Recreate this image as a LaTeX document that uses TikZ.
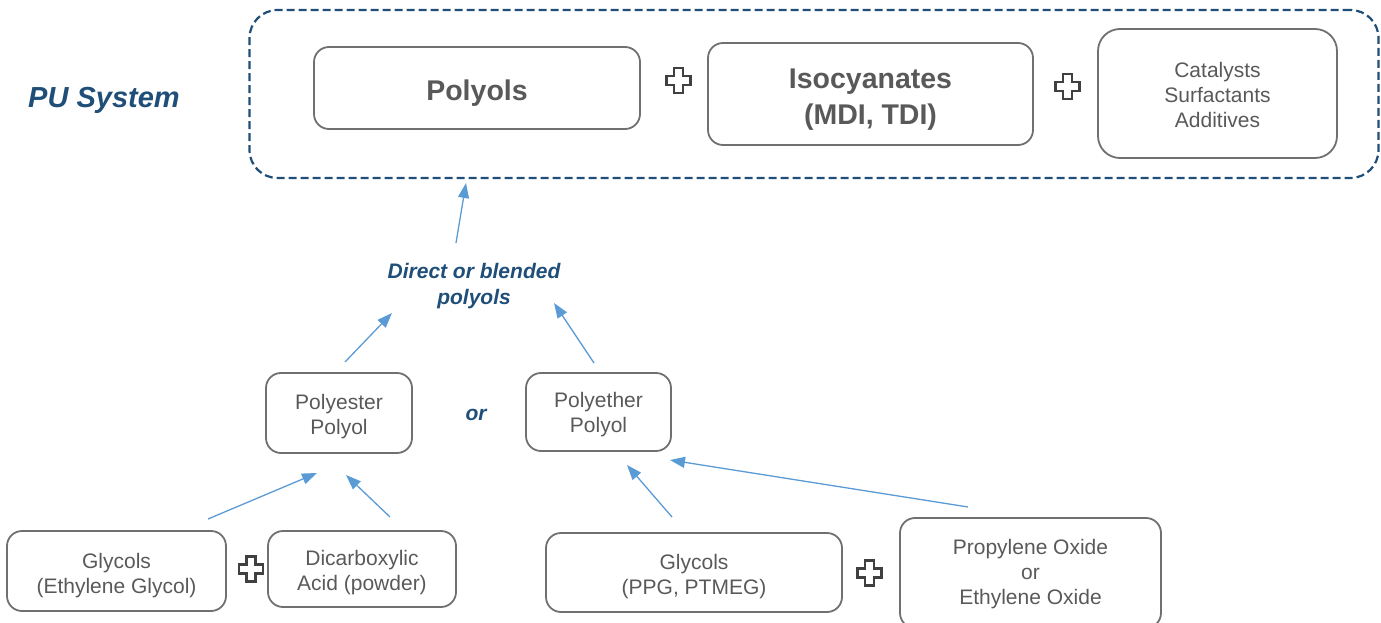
\documentclass[tikz,border=0pt]{standalone}
\usepackage{fontspec}
\setmainfont{Liberation Sans}
\usetikzlibrary{arrows.meta}
\definecolor{boxgray}{HTML}{707070}
\definecolor{txtgray}{HTML}{595959}
\definecolor{dblue}{HTML}{1F4E79}
\definecolor{arrblue}{HTML}{5B9BD5}
\definecolor{plusgray}{HTML}{404040}
\tikzset{
  rbox/.style={draw=boxgray, line width=1.8pt, rounded corners=15pt, inner sep=0pt},
  boxtext/.style={text=txtgray, align=center, inner sep=0pt},
  regtxt/.style={font=\fontsize{21}{25}\selectfont},
  bigtxt/.style={font=\fontsize{28.5}{36}\selectfont\bfseries},
  bluetxt/.style={text=dblue, font=\fontsize{21}{26}\selectfont\bfseries\itshape, align=center, inner sep=0pt},
  arr/.style={draw=arrblue, line width=1.3pt, -{Triangle[length=15pt,width=11pt]}},
  frame/.style={draw=dblue, line width=2.2pt, dash pattern=on 8pt off 4pt, rounded corners=28pt, inner sep=0pt},
  plussign/.pic={\draw[plusgray, line width=2.5pt, line join=miter]
    (-4.5,-12.5) -- (4.5,-12.5) -- (4.5,-4.5) -- (12,-4.5) -- (12,4.5) -- (4.5,4.5) -- (4.5,12.5)
    -- (-4.5,12.5) -- (-4.5,4.5) -- (-12,4.5) -- (-12,-4.5) -- (-4.5,-4.5) -- cycle;}
}
\begin{document}
\begin{tikzpicture}[x=1pt, y=-1pt]
\useasboundingbox (0,0) rectangle (1381,623);

% frame
\node[frame, minimum width=1129pt, minimum height=168pt] (pu) at (814,94) {};
\node[bluetxt, font=\fontsize{29}{34}\selectfont\bfseries\itshape] (putitle) at (104,100) {PU System};

% top row
\node[rbox, minimum width=326pt, minimum height=82pt] (polyols) at (477,88) {};
\node[boxtext, bigtxt] (polyolsT) at (477,93) {Polyols};
\pic at (678.5,80.5) {plussign};
\node[rbox, minimum width=325pt, minimum height=102pt] (iso) at (870.5,94) {};
\node[boxtext, bigtxt] (isoT) at (870.5,100) {Isocyanates\\(MDI, TDI)};
\pic at (1067.5,86.5) {plussign};
\node[rbox, rounded corners=22pt, minimum width=239pt, minimum height=129pt] (cat) at (1217.5,93.5) {};
\node[boxtext, regtxt] (catT) at (1217.5,94.5) {Catalysts\\Surfactants\\Additives};

% middle
\node[bluetxt] (direct) at (474,286) {Direct or blended\\polyols};
\node[rbox, minimum width=146pt, minimum height=80pt] (pester) at (339,413) {};
\node[boxtext, regtxt] (pesterT) at (339,417) {Polyester\\Polyol};
\node[bluetxt] (ortxt) at (476,415) {or};
\node[rbox, minimum width=145pt, minimum height=78pt] (pether) at (598.5,412) {};
\node[boxtext, regtxt] (petherT) at (598.5,415) {Polyether\\Polyol};

% bottom
\node[rbox, minimum width=219pt, minimum height=80pt] (geg) at (116.5,571) {};
\node[boxtext, regtxt] (gegT) at (116.5,576) {Glycols\\(Ethylene Glycol)};
\pic at (251,569) {plussign};
\node[rbox, minimum width=188pt, minimum height=76pt] (dicarb) at (362,569) {};
\node[boxtext, regtxt] (dicarbT) at (362,573) {Dicarboxylic\\Acid (powder)};
\node[rbox, minimum width=296pt, minimum height=79pt] (gppg) at (694,572.5) {};
\node[boxtext, regtxt] (gppgT) at (694,576.5) {Glycols\\(PPG, PTMEG)};
\pic at (869.5,573) {plussign};
\node[rbox, minimum width=261pt, minimum height=110pt] (oxide) at (1030.5,573) {};
\node[boxtext, regtxt] (oxideT) at (1030.5,574.5) {Propylene Oxide\\or\\Ethylene Oxide};

% arrow coordinates
\coordinate (a1s) at (456,243); \coordinate (a1e) at (466,183);
\coordinate (a2s) at (345,362); \coordinate (a2e) at (392,313);
\coordinate (a3s) at (594,363); \coordinate (a3e) at (554,303);
\coordinate (a4s) at (208,519); \coordinate (a4e) at (317,473);
\coordinate (a5s) at (390,517); \coordinate (a5e) at (346,475);
\coordinate (a6s) at (672,517); \coordinate (a6e) at (627,465);
\coordinate (a7s) at (968,507); \coordinate (a7e) at (670,460);

\draw[arr] (a1s) -- (a1e);
\draw[arr] (a2s) -- (a2e);
\draw[arr] (a3s) -- (a3e);
\draw[arr] (a4s) -- (a4e);
\draw[arr] (a5s) -- (a5e);
\draw[arr] (a6s) -- (a6e);
\draw[arr] (a7s) -- (a7e);
\end{tikzpicture}
\end{document}
